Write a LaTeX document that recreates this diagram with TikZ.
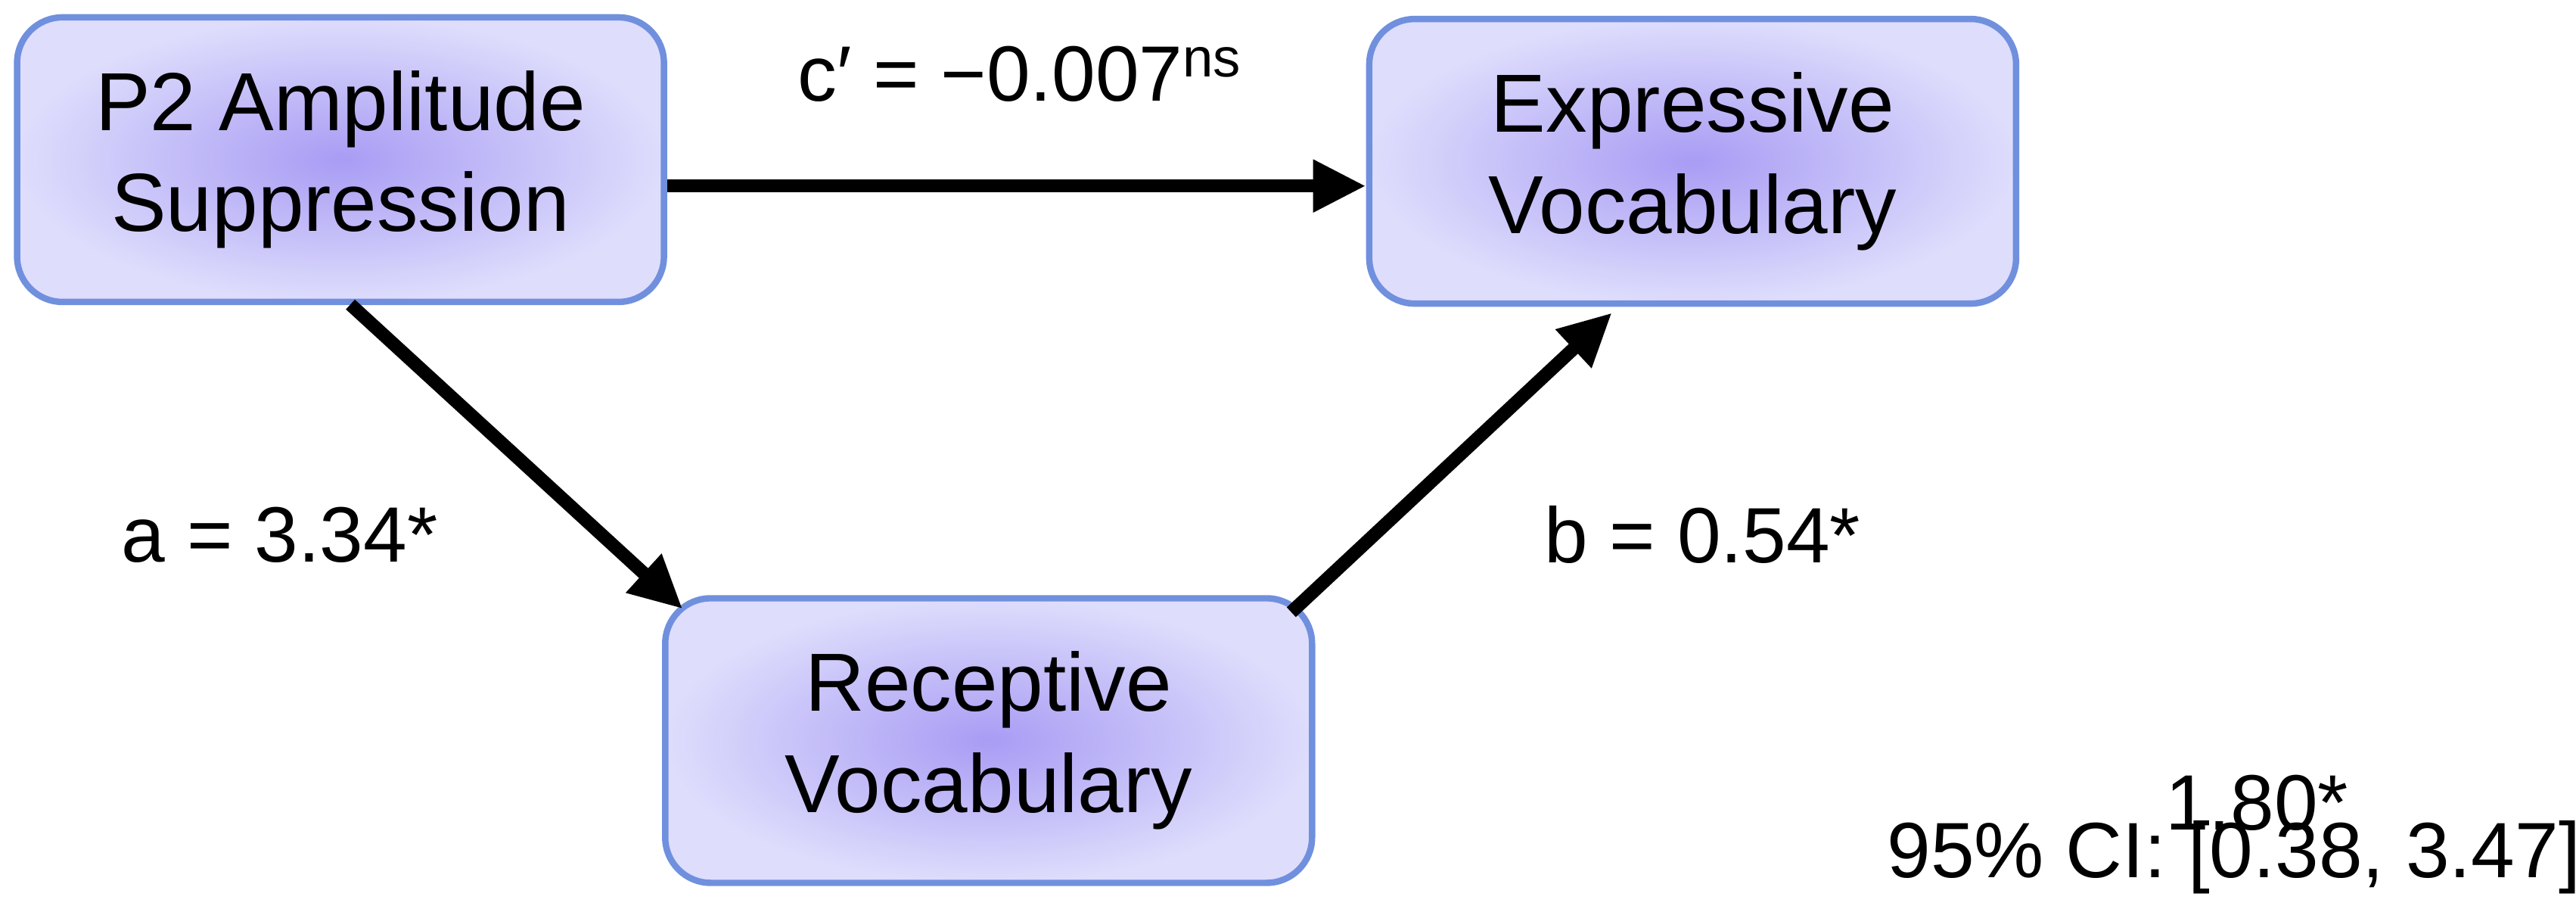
\documentclass[tikz,border=0pt]{standalone}
\usepackage{fontspec}
\setmainfont{Liberation Sans}
\usetikzlibrary{arrows.meta}
\definecolor{boxin}{HTML}{A89CF4}
\definecolor{boxout}{HTML}{DEDDFC}
\definecolor{boxline}{HTML}{7090DE}
\tikzset{
  vbox/.style={draw=boxline, line width=2.4pt, rounded corners=0.6cm, minimum width=8.55cm, minimum height=3.76cm, inner color=boxin, outer color=boxout, align=center, font=\fontsize{31}{38}\selectfont},
  conn/.style={line width=5pt, -{Triangle[length=0.7cm,width=0.65cm]}},
  lab/.style={font=\fontsize{29.5}{36}\selectfont}
}
\begin{document}
\begin{tikzpicture}[x=0.02174cm,y=-0.02174cm]
\useasboundingbox (0,0) rectangle (1566,552);
\node[vbox] (p2) at (207,97) {P2 Amplitude\\Suppression};
\node[vbox] (ev) at (1029,98) {Expressive\\Vocabulary};
\node[vbox] (rv) at (601,450) {Receptive\\Vocabulary};
\draw[conn] (p2.east |- 0,113) -- (ev.west |- 0,113);
\draw[conn] (213,185) -- (415,370);
\draw[conn] (785,372) -- (980,190);
\node[lab] (c) at (620,45) {c′ = −0.007\textsuperscript{ns}};
\node[lab] (a) at (170,325) {a = 3.34*};
\node[lab] (b) at (1035,325) {b = 0.54*};
\node[lab] (ie) at (1372,488) {1.80*};
\node[lab] (ci) at (1358,521) {95\% CI: [0.38, 3.47]};
\end{tikzpicture}
\end{document}
